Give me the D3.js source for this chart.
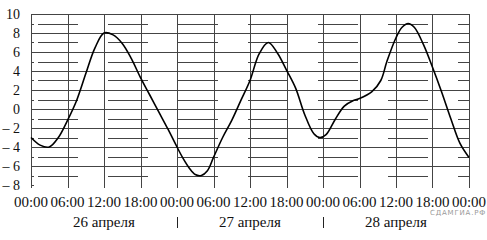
<!DOCTYPE html>
<html>
<head>
<meta charset="utf-8">
<script src="https://cdn.jsdelivr.net/npm/d3@7"></script>
<style>
  body { margin: 0; background: #fff; }
</style>
</head>
<body>
<div id="chart"></div>
<script>
// hours since 26 April 00:00 and temperature
const hours = [0, 1.5, 3, 4.5, 6, 7.5, 9, 10.5, 12, 13.5, 15, 16.5, 18, 19.5, 21, 22.5, 24, 25, 26, 27, 28, 29,
  30, 31.5, 33, 34.5, 36, 37.5, 39, 40.5, 42, 43.5, 45, 46.5, 47.5, 48.5, 50, 51.5, 53, 54, 56, 57.5,
  58.5, 60, 61, 62, 63, 64.5, 66, 67.5, 69, 70.5, 72];
const temps = [-3, -3.8, -4, -3, -1.2, 0.9, 3.7, 6.4, 8, 7.8, 6.9, 5.3, 3.3, 1.5, -0.3, -2.1, -4, -5.2, -6.2, -6.9, -7, -6.5,
  -5.1, -3.0, -1.2, 0.9, 3, 5.8, 7, 5.9, 4.1, 2.2, -0.6, -2.6, -3, -2.7, -1.1, 0.3, 0.9, 1.1, 1.8, 3,
  5, 7.5, 8.6, 9, 8.6, 6.8, 4.4, 1.8, -1, -3.6, -5.1];
const tickHours = [0, 6, 12, 18, 24, 30, 36, 42, 48, 54, 60, 66, 72];
const tickLabels = ['00:00', '06:00', '12:00', '18:00', '00:00', '06:00', '12:00', '18:00', '00:00', '06:00', '12:00', '18:00', '00:00'];
const dayLabels = ['26 апреля', '27 апреля', '28 апреля'];
const dayCenters = [12, 36, 60];
const daySeparators = [24, 48];
const majorValues = [10, 8, 6, 4, 2, 0, -2, -4, -6];
const minorValues = [9, 7, 5, 3, 1, -1, -3, -5, -7];
const labelValues = [10, 8, 6, 4, 2, 0, -2, -4, -6, -8];

const W = 487, H = 240;
const gridColor = '#444';
const serif = "'Liberation Serif', 'DejaVu Serif', 'Times New Roman', serif";

const svg = d3.select('#chart').append('svg').attr('width', W).attr('height', H);

const x = d3.scaleLinear().domain([0, 72]).range([31, 469]);
const y = d3.scaleLinear().domain([-8, 10]).range([185, 14]);

// full horizontal grid lines (even values)
svg.append('g').selectAll('line').data(majorValues).enter().append('line')
  .attr('x1', x(0)).attr('x2', x(72))
  .attr('y1', d => Math.round(y(d)) + 0.5).attr('y2', d => Math.round(y(d)) + 0.5)
  .attr('stroke', gridColor).attr('stroke-width', 1);

// dashed horizontal lines (odd values)
svg.append('g').selectAll('line').data(minorValues).enter().append('line')
  .attr('x1', x(0) + 7).attr('x2', x(72))
  .attr('y1', d => Math.round(y(d)) + 0.5).attr('y2', d => Math.round(y(d)) + 0.5)
  .attr('stroke', gridColor).attr('stroke-width', 1)
  .attr('stroke-dasharray', '40,30');

// little ticks on the left axis
svg.append('g').selectAll('line').data(d3.range(-8, 11)).enter().append('line')
  .attr('x1', x(0)).attr('x2', x(0) + 3)
  .attr('y1', d => Math.round(y(d)) + 0.5).attr('y2', d => Math.round(y(d)) + 0.5)
  .attr('stroke', gridColor).attr('stroke-width', 1);

// vertical grid lines every 6 hours
svg.append('g').selectAll('line').data(tickHours).enter().append('line')
  .attr('x1', d => Math.round(x(d)) + 0.5).attr('x2', d => Math.round(x(d)) + 0.5)
  .attr('y1', y(10)).attr('y2', y(-8) + 3)
  .attr('stroke', gridColor).attr('stroke-width', 1);

// y labels
svg.append('g').selectAll('text').data(labelValues).enter().append('text')
  .attr('x', 20).attr('y', d => y(d)).attr('dy', '0.35em')
  .attr('text-anchor', 'end')
  .style('font-family', serif).style('font-size', '14px').style('fill', '#111')
  .text(d => d < 0 ? '\u2013 ' + Math.abs(d) : d);

// x labels
svg.append('g').selectAll('text').data(tickHours).enter().append('text')
  .attr('x', d => x(d)).attr('y', 207)
  .attr('text-anchor', 'middle')
  .style('font-family', serif).style('font-size', '15px').style('fill', '#111')
  .text((d, i) => tickLabels[i]);

// day labels
svg.append('g').selectAll('text').data(dayLabels).enter().append('text')
  .attr('x', (d, i) => x(dayCenters[i])).attr('y', 227)
  .attr('text-anchor', 'middle')
  .style('font-family', serif).style('font-size', '15px').style('fill', '#111')
  .text(d => d);

// separators between days
svg.append('g').selectAll('line').data(daySeparators).enter().append('line')
  .attr('x1', d => Math.round(x(d)) + 0.5).attr('x2', d => Math.round(x(d)) + 0.5)
  .attr('y1', 217).attr('y2', 228)
  .attr('stroke', '#222').attr('stroke-width', 1);

// temperature curve
const line = d3.line()
  .x((d, i) => x(hours[i]))
  .y(d => y(d))
  .curve(d3.curveCatmullRom.alpha(0.5));

svg.append('path')
  .datum(temps)
  .attr('d', line)
  .attr('fill', 'none')
  .attr('stroke', '#000')
  .attr('stroke-width', 1.6)
  .attr('stroke-linejoin', 'round');

// watermark
svg.append('text')
  .attr('x', 486).attr('y', 215)
  .attr('text-anchor', 'end')
  .style('font-family', "'DejaVu Sans', sans-serif")
  .style('font-size', '7px')
  .style('letter-spacing', '0.8px')
  .style('fill', '#999')
  .text('СДАМГИА.РФ');
</script>
</body>
</html>
